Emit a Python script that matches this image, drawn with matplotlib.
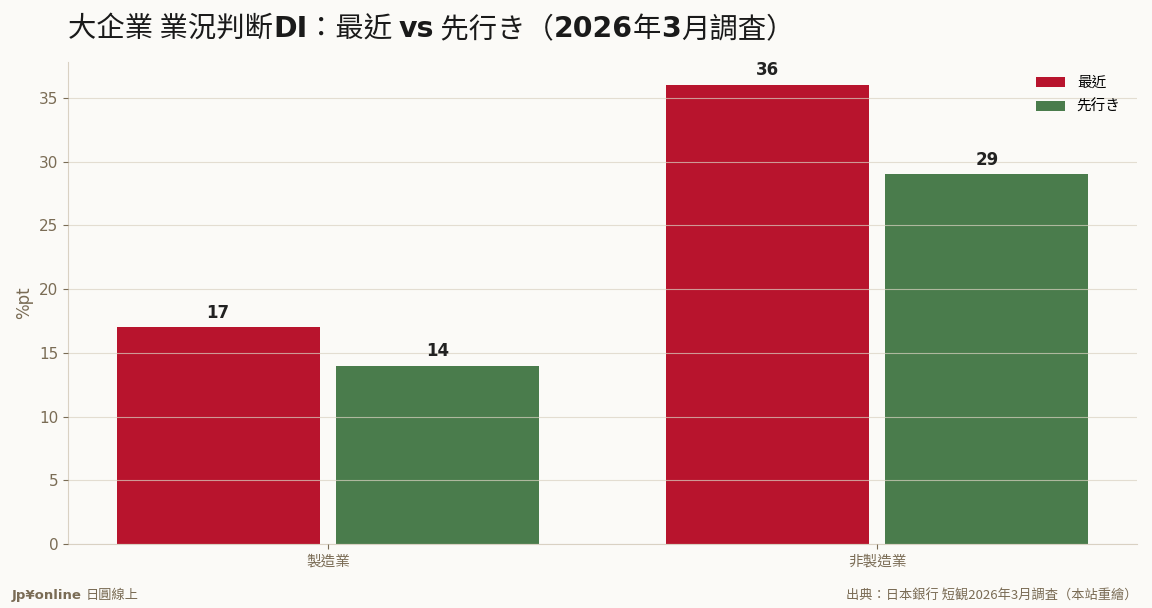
import numpy as np
import matplotlib
matplotlib.use("Agg")
import matplotlib.pyplot as plt
from matplotlib.offsetbox import TextArea, HPacker, AnchoredOffsetbox

CJK = 'Noto Sans CJK TC'
plt.rcParams['font.family'] = ['DejaVu Sans', CJK]

categories = ['製造業', '非製造業']
recent = [17, 36]
outlook = [14, 29]
series_names = ['最近', '先行き']

# title pieces: (text, bold?)
title_parts = [('大企業 業況判断', False), ('DI', True), ('：最近 ', False), ('vs', True),
               (' 先行き（', False), ('2026', True), ('年', False), ('3', True), ('月調査）', False)]

BG = '#fbfaf7'
RED = '#b8142d'
GREEN = '#4a7c4c'
TICK = '#7a6c55'
SPINE = '#d9d1c3'

fig, ax = plt.subplots(figsize=(11.52, 6.08), dpi=100)
fig.patch.set_facecolor(BG)
ax.set_facecolor(BG)
fig.subplots_adjust(left=0.059, right=0.987, top=0.898, bottom=0.105)

x = np.arange(len(categories))
w = 0.37
b1 = ax.bar(x - 0.2, recent, w, color=RED, label=series_names[0], zorder=1)
b2 = ax.bar(x + 0.2, outlook, w, color=GREEN, label=series_names[1], zorder=1)

for bars in (b1, b2):
    for r in bars:
        ax.annotate(f'{r.get_height():.0f}', (r.get_x() + r.get_width() / 2, r.get_height()),
                    xytext=(0, 4), textcoords='offset points', ha='center', va='bottom',
                    fontsize=12, fontweight='bold', color='#222222')

ax.set_xticks(x)
ax.set_xticklabels(categories)
ax.set_ylabel('%pt', color=TICK, fontsize=12)
ax.tick_params(axis='x', colors=TICK, labelsize=10.5)
ax.tick_params(axis='y', colors=TICK, labelsize=11)
for t in ax.get_xticklabels():
    t.set_color(TICK)

# grid sits on top of the bars, faint
ax.yaxis.grid(True, color='#d9d2c2', alpha=0.7, linewidth=0.8, zorder=3)
ax.set_axisbelow(False)
ax.spines['top'].set_visible(False)
ax.spines['right'].set_visible(False)
ax.spines['left'].set_color(SPINE)
ax.spines['bottom'].set_color(SPINE)

ax.legend(frameon=False, loc='upper right', fontsize=10.5, bbox_to_anchor=(0.997, 1.0),
          labelspacing=0.6)

# title with mixed weights (Latin bold, CJK regular)
areas = []
for txt, bold in title_parts:
    if bold:
        props = dict(fontsize=20.4, fontweight='bold', color='#1a1a1a', family=['DejaVu Sans'])
    else:
        props = dict(fontsize=20.4, color='#1a1a1a', family=[CJK, 'DejaVu Sans'])
    areas.append(TextArea(txt, textprops=props))
pack = HPacker(children=areas, align='baseline', pad=0, sep=0)
tbox = AnchoredOffsetbox(loc='center left', child=pack, pad=0, borderpad=0, frameon=False,
                         bbox_to_anchor=(0.059, 0.952), bbox_transform=fig.transFigure)
fig.add_artist(tbox)

fig.text(0.01, 0.02, 'Jp¥online', fontsize=9.5, fontweight='bold', color=TICK, ha='left', va='center')
fig.text(0.074, 0.02, '日圓線上', fontsize=9.5, color=TICK, ha='left', va='center',
         family=[CJK])
fig.text(0.987, 0.02, '出典：日本銀行 短観2026年3月調査（本站重繪）', fontsize=9.5,
         color=TICK, ha='right', va='center', family=[CJK, 'DejaVu Sans'])

fig.savefig('out.png', dpi=100, facecolor=BG)
